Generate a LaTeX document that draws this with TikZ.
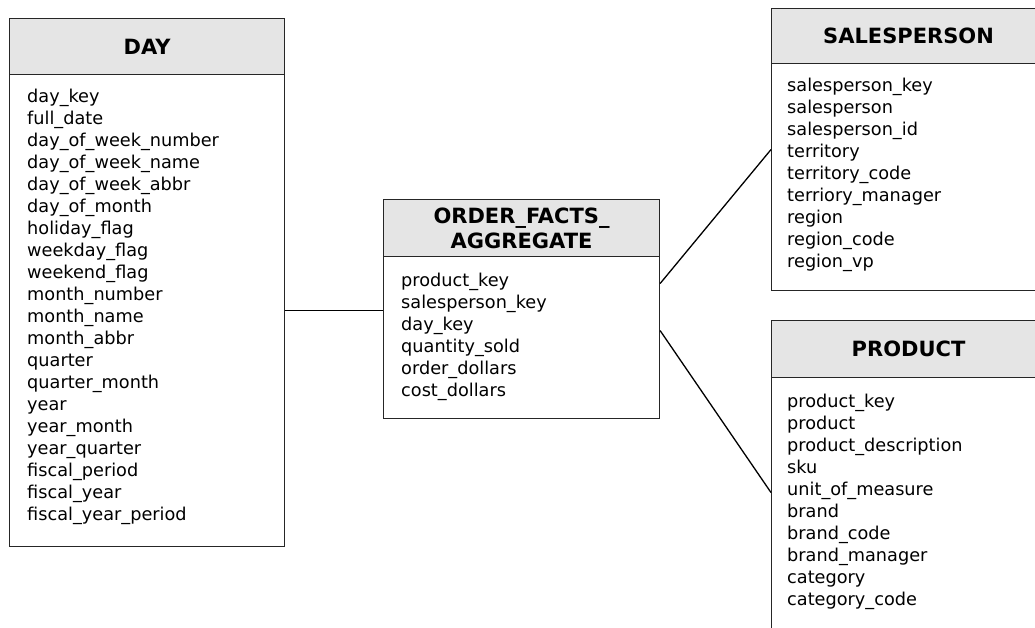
\documentclass[tikz,border=0pt]{standalone}
\usepackage{fontspec}
\setmainfont{DejaVu Sans}
\begin{document}
\begin{tikzpicture}[x=1pt,y=-1pt,
  hdrbox/.style={draw=black!85,line width=1.1pt,fill=black!10,anchor=north west,
    inner sep=0pt,align=center,font=\fontsize{21}{25}\selectfont\bfseries},
  bodybox/.style={draw=black!85,line width=1.1pt,fill=white,anchor=north west,inner sep=0pt},
  fields/.style={anchor=north west,inner sep=0pt,align=left,font=\fontsize{17.7}{22}\selectfont},
  link/.style={draw=black,line width=1.3pt}]
\useasboundingbox (0,0) rectangle (1035,628);
\clip (0,0) rectangle (1035,628);

% DAY dimension
\node[hdrbox,minimum width=275pt,minimum height=56pt] (dayh) at (9,18) {DAY};
\node[bodybox,minimum width=275pt,minimum height=472pt] (dayb) at (9,74) {};
\node[fields] (dayf) at (27,88.6) {day\_key\\full\_date\\day\_of\_week\_number\\day\_of\_week\_name\\day\_of\_week\_abbr\\day\_of\_month\\holiday\_flag\\weekday\_flag\\weekend\_flag\\month\_number\\month\_name\\month\_abbr\\quarter\\quarter\_month\\year\\year\_month\\year\_quarter\\fiscal\_period\\fiscal\_year\\fiscal\_year\_period};

% fact table
\node[hdrbox,minimum width=276pt,minimum height=57pt] (ordh) at (383,199) {ORDER\_FACTS\_\\AGGREGATE};
\node[bodybox,minimum width=276pt,minimum height=162pt] (ordb) at (383,256) {};
\node[fields] (ordf) at (401,272.6) {product\_key\\salesperson\_key\\day\_key\\quantity\_sold\\order\_dollars\\cost\_dollars};

% SALESPERSON dimension (runs past the right edge)
\node[hdrbox,minimum width=274pt,minimum height=55pt] (salh) at (771,8) {SALESPERSON};
\node[bodybox,minimum width=274pt,minimum height=227pt] (salb) at (771,63) {};
\node[fields] (salf) at (787,77.6) {salesperson\_key\\salesperson\\salesperson\_id\\territory\\territory\_code\\terriory\_manager\\region\\region\_code\\region\_vp};

% PRODUCT dimension (runs past the right and bottom edges)
\node[hdrbox,minimum width=274pt,minimum height=57pt] (prodh) at (771,320) {PRODUCT};
\node[bodybox,minimum width=274pt,minimum height=283pt] (prodb) at (771,377) {};
\node[fields] (prodf) at (787,393.6) {product\_key\\product\\product\_description\\sku\\unit\_of\_measure\\brand\\brand\_code\\brand\_manager\\category\\category\_code};

% relationships
\draw[link] (dayb.east) -- (dayb.east -| ordb.west);
\draw[link] ([yshift=54pt]ordb.east) -- ([yshift=27.5pt]salb.west);
\draw[link] ([yshift=7pt]ordb.east) -- ([yshift=26.5pt]prodb.west);
\end{tikzpicture}
\end{document}
